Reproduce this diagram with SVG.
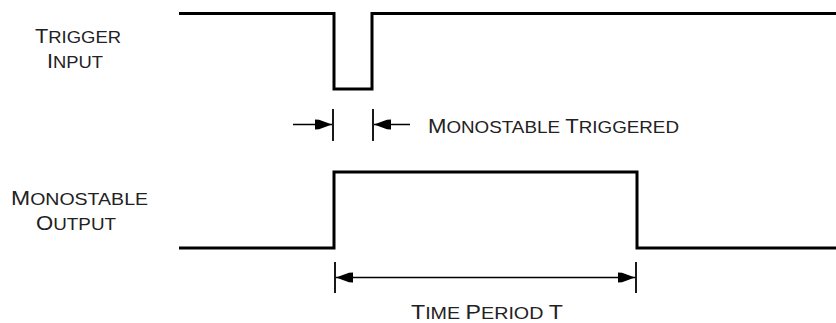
<svg xmlns="http://www.w3.org/2000/svg" width="836" height="323" viewBox="0 0 836 323">
  <style>
    .wave { fill: none; stroke: #000; stroke-width: 3; stroke-linejoin: miter; stroke-linecap: butt; }
    .dim { fill: none; stroke: #000; stroke-width: 1.6; }
    .tick { stroke: #000; stroke-width: 1.8; }
    .lbl { font-family: "Liberation Sans", Arial, sans-serif; fill: #222; }
    .cap { font-size: 20px; }
    .sc { font-size: 17px; }
  </style>
  <defs>
    <marker id="ah" markerUnits="userSpaceOnUse" markerWidth="19" markerHeight="13" refX="17" refY="6" orient="auto-start-reverse" viewBox="0 0 19 13">
      <path d="M0,1 L4,1.2 L17,6 L4,10.8 L0,11 Z" fill="#000"/>
    </marker>
  </defs>

  <rect width="836" height="323" fill="#fff"/>

  <g id="trigger-input">
    <path class="wave" d="M179,13.5 H334 V89 H372 V13.5 H836"/>
    <text class="lbl" x="35" y="43" textLength="86" lengthAdjust="spacingAndGlyphs"><tspan class="cap">T</tspan><tspan class="sc">RIGGER</tspan></text>
    <text class="lbl" x="47" y="68" textLength="56" lengthAdjust="spacingAndGlyphs"><tspan class="cap">I</tspan><tspan class="sc">NPUT</tspan></text>
  </g>

  <g id="monostable-output">
    <path class="wave" d="M179,248 H334 V172 H637 V248 H836"/>
    <text class="lbl" x="11" y="205" textLength="137" lengthAdjust="spacingAndGlyphs"><tspan class="cap">M</tspan><tspan class="sc">ONOSTABLE</tspan></text>
    <text class="lbl" x="36" y="230" textLength="80" lengthAdjust="spacingAndGlyphs"><tspan class="cap">O</tspan><tspan class="sc">UTPUT</tspan></text>
  </g>

  <g id="connectors">
    <line class="tick" x1="333" y1="109" x2="333" y2="141"/>
    <line class="tick" x1="373" y1="109" x2="373" y2="141"/>
    <line class="dim" x1="293" y1="124.5" x2="332" y2="124.5" marker-end="url(#ah)"/>
    <line class="dim" x1="410" y1="124.5" x2="374" y2="124.5" marker-end="url(#ah)"/>
    <line class="tick" x1="335" y1="262" x2="335" y2="293"/>
    <line class="tick" x1="636" y1="262" x2="636" y2="293"/>
    <line class="dim" x1="336" y1="277.5" x2="635" y2="277.5" marker-start="url(#ah)" marker-end="url(#ah)"/>
  </g>

  <g id="monostable-triggered-label">
    <text class="lbl" x="428" y="133" textLength="251" lengthAdjust="spacingAndGlyphs"><tspan class="cap">M</tspan><tspan class="sc">ONOSTABLE </tspan><tspan class="cap">T</tspan><tspan class="sc">RIGGERED</tspan></text>
  </g>

  <g id="time-period-label">
    <text class="lbl" x="411" y="319" textLength="152" lengthAdjust="spacingAndGlyphs"><tspan class="cap">T</tspan><tspan class="sc">IME </tspan><tspan class="cap">P</tspan><tspan class="sc">ERIOD </tspan><tspan class="cap">T</tspan></text>
  </g>
</svg>
